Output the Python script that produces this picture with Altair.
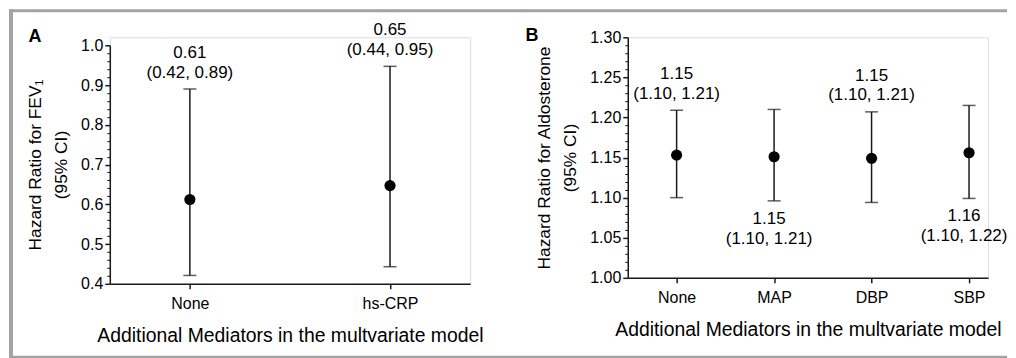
import altair as alt
import pandas as pd

# ---- Panel A data ----
catA = ["None", "hs-CRP"]
hrA = [0.612, 0.647]
loA = [0.421, 0.443]
hiA = [0.890, 0.947]
estA = ["0.61", "0.65"]
ciA = ["(0.42, 0.89)", "(0.44, 0.95)"]
posA = ["above", "above"]
ticksA = [0.4, 0.5, 0.6, 0.7, 0.8, 0.9, 1.0]
minorA = [0.42, 0.44, 0.46, 0.48, 0.52, 0.54, 0.56, 0.58, 0.62, 0.64, 0.66, 0.68,
          0.72, 0.74, 0.76, 0.78, 0.82, 0.84, 0.86, 0.88, 0.92, 0.94, 0.96, 0.98]

# ---- Panel B data ----
catB = ["None", "MAP", "DBP", "SBP"]
hrB = [1.153, 1.151, 1.149, 1.156]
loB = [1.100, 1.096, 1.094, 1.099]
hiB = [1.209, 1.210, 1.207, 1.215]
estB = ["1.15", "1.15", "1.15", "1.16"]
ciB = ["(1.10, 1.21)", "(1.10, 1.21)", "(1.10, 1.21)", "(1.10, 1.22)"]
posB = ["above", "below", "above", "below"]
ticksB = [1.00, 1.05, 1.10, 1.15, 1.20, 1.25, 1.30]
minorB = [1.01, 1.02, 1.03, 1.04, 1.06, 1.07, 1.08, 1.09, 1.11, 1.12, 1.13, 1.14,
          1.16, 1.17, 1.18, 1.19, 1.21, 1.22, 1.23, 1.24, 1.26, 1.27, 1.28, 1.29]

XTITLE = "Additional Mediators in the multvariate model"
FONT = "Liberation Sans"
INK = "#1a1a1a"
FRAME = "#a3a3a3"


def panel(cats, hr, lo, hi, est, ci, pos, ticks, minor, fmt, ytitle, letter,
          letter_xy, width, height, yrange, pad, align, frame=False):
    df = pd.DataFrame({"cat": cats, "hr": hr, "lo": lo, "hi": hi,
                       "est": est, "ci": ci, "pos": pos})
    base = alt.Chart(df)
    x = alt.X("cat:N", sort=cats,
              scale=alt.Scale(type="point", padding=pad, align=align),
              axis=alt.Axis(title=XTITLE, labelAngle=0, labelFontSize=16,
                            labelColor="black", labelPadding=7, tickSize=5,
                            tickWidth=1.5, tickColor=INK, domainColor=INK,
                            domainWidth=1.5, titleFontSize=19.4,
                            titleFontWeight="normal", titleColor="black",
                            titlePadding=15, labelFont=FONT, titleFont=FONT))
    yscale = alt.Scale(domain=[ticks[0], ticks[-1]], nice=False, zero=False,
                       **({"range": yrange} if yrange else {}))
    main_axis = alt.Axis(values=ticks, format=fmt, labelFontSize=16,
                         labelColor="black", labelPadding=2, tickSize=5,
                         tickWidth=1.5, tickColor=INK, domainColor=INK,
                         domainWidth=1.5, title=ytitle, titleFontSize=17.4,
                         titleFontWeight="normal", titleColor="black",
                         titleLineHeight=26, titlePadding=10, grid=False,
                         labelFont=FONT, titleFont=FONT, orient="left")
    minor_axis = alt.Axis(values=minor, labels=False, tickSize=3, tickWidth=1,
                          tickColor=INK, domain=False, title=None, grid=False,
                          orient="left")

    rules = base.mark_rule(color=INK, strokeWidth=1.5).encode(
        x=x, y=alt.Y("lo:Q", scale=yscale, axis=minor_axis), y2="hi:Q")
    caps_hi = base.mark_tick(color=INK, size=13, thickness=1.5).encode(
        x=x, y=alt.Y("hi:Q", scale=yscale, axis=None))
    caps_lo = base.mark_tick(color=INK, size=13, thickness=1.5).encode(
        x=x, y=alt.Y("lo:Q", scale=yscale, axis=None))
    pts = base.mark_circle(color="black", size=125, opacity=1).encode(
        x=x, y=alt.Y("hr:Q", scale=yscale, axis=main_axis))

    tstyle = dict(font=FONT, fontSize=17, color="black", baseline="middle")
    above = base.transform_filter(alt.datum.pos == "above")
    below = base.transform_filter(alt.datum.pos == "below")
    t1a = above.mark_text(dy=-36, **tstyle).encode(
        x=x, y=alt.Y("hi:Q", scale=yscale, axis=None), text="est:N")
    t2a = above.mark_text(dy=-16.5, **tstyle).encode(
        x=x, y=alt.Y("hi:Q", scale=yscale, axis=None), text="ci:N")
    t1b = below.mark_text(dy=18, dx=-5, **tstyle).encode(
        x=x, y=alt.Y("lo:Q", scale=yscale, axis=None), text="est:N")
    t2b = below.mark_text(dy=38, dx=-5, **tstyle).encode(
        x=x, y=alt.Y("lo:Q", scale=yscale, axis=None), text="ci:N")

    lab = alt.Chart(pd.DataFrame({"t": [letter]})).mark_text(
        font=FONT, fontSize=18, fontWeight="bold", color="black",
        baseline="middle", align="center").encode(
        text="t:N", x=alt.value(letter_xy[0]), y=alt.value(letter_xy[1]))

    layers = [rules, caps_hi, caps_lo, pts, t1a, t2a, t1b, t2b, lab]
    if frame:
        one = alt.Chart(pd.DataFrame({"k": [0]}))
        fs = dict(color=FRAME, strokeWidth=0, opacity=1)
        layers += [
            one.mark_rect(**fs).encode(x=alt.value(-101), x2=alt.value(-97),
                                       y=alt.value(-28), y2=alt.value(323)),
            one.mark_rect(**fs).encode(x=alt.value(-101), x2=alt.value(899),
                                       y=alt.value(-28), y2=alt.value(-25)),
            one.mark_rect(**fs).encode(x=alt.value(-101), x2=alt.value(899),
                                       y=alt.value(319), y2=alt.value(323)),
        ]
    return alt.layer(*layers).resolve_axis(y="independent").properties(
        width=width, height=height)


A = panel(catA, hrA, loA, hiA, estA, ciA, posA, ticksA, minorA, ".1f",
          ["Hazard  Ratio for FEV\u2081", "(95% CI)"], "A", (-75, -0.5),
          361, 247, [247, 8], 0.4, 0.5, frame=True)
B = panel(catB, hrB, loB, hiB, estB, ciB, posB, ticksB, minorB, ".2f",
          ["Hazard  Ratio for Aldosterone", "(95% CI)"], "B", (-96, -1),
          361, 241, None, 0.348, 0.72)

chart = alt.hconcat(A, B, spacing=158, bounds="flush").properties(
    padding=0, background="white").configure_view(stroke=None).configure(
    font=FONT)

chart.save("out.html", embed_options={"renderer": "svg", "actions": False})
